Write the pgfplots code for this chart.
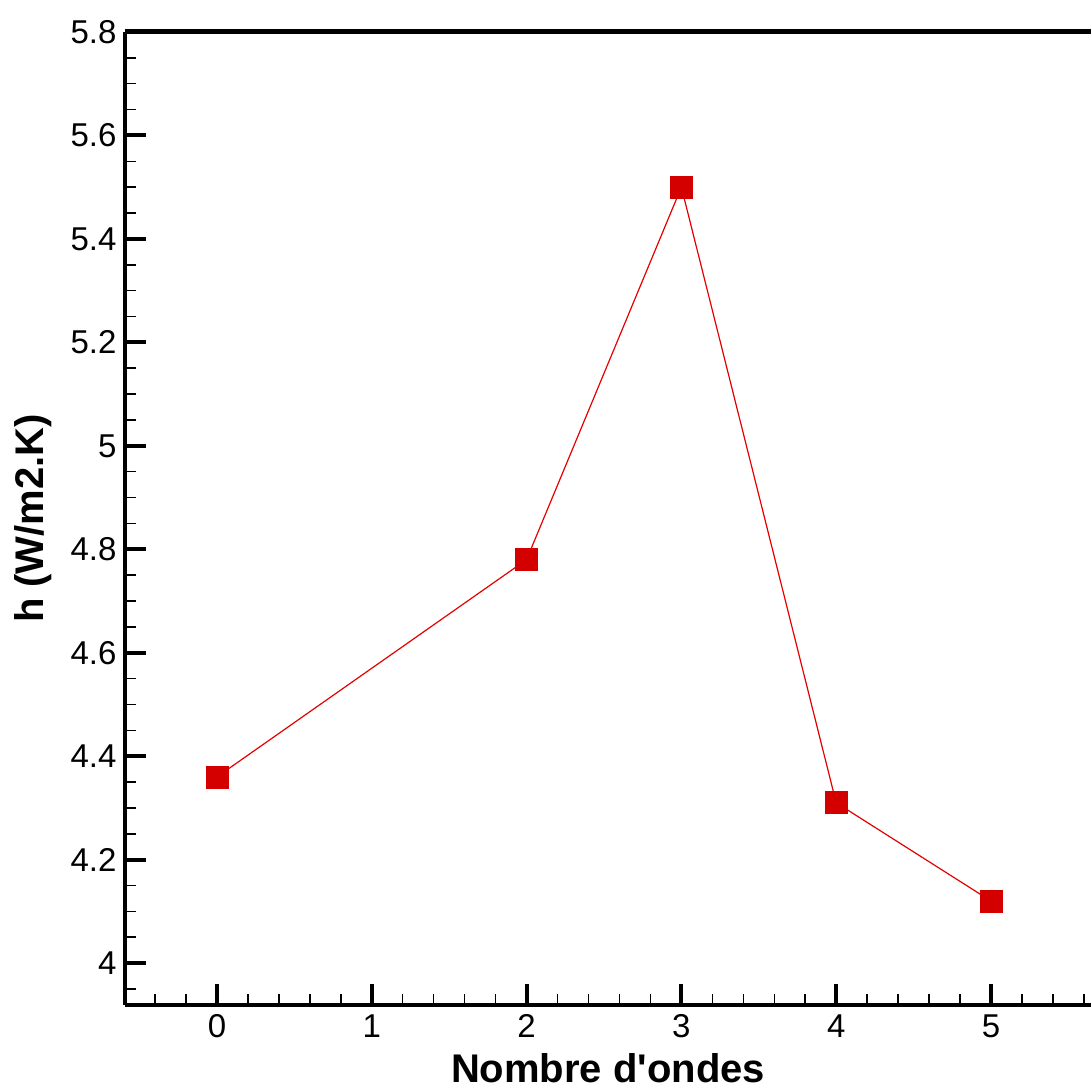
\documentclass[border=0pt]{standalone}
\usepackage{pgfplots}
\pgfplotsset{compat=1.18}
\usepackage{fontspec}
\setmainfont{Liberation Sans}
\definecolor{mred}{RGB}{212,0,0}
\definecolor{lred}{RGB}{228,0,0}
\begin{document}
\begin{tikzpicture}
\begin{axis}[
 scale only axis, width=966pt, height=973pt,
 xmin=-0.594, xmax=5.646, ymin=3.919, ymax=5.8,
 axis x line*=bottom, axis y line*=left,
 axis line style={line width=4.5pt,-},
 tick align=inside,
 xtick={0,1,2,3,4,5},
 ytick={4,4.2,4.4,4.6,4.8,5,5.2,5.4,5.6,5.8},
 minor xtick={-0.4,-0.2,0.2,0.4,0.6,0.8,1.2,1.4,1.6,1.8,2.2,2.4,2.6,2.8,3.2,3.4,3.6,3.8,4.2,4.4,4.6,4.8,5.2,5.4,5.6},
 minor ytick={3.95,4.05,4.1,4.15,4.25,4.3,4.35,4.45,4.5,4.55,4.65,4.7,4.75,4.85,4.9,4.95,5.05,5.1,5.15,5.25,5.3,5.35,5.45,5.5,5.55,5.65,5.7,5.75},
 major tick length=21pt, minor tick length=11pt,
 every major tick/.append style={line width=4pt, black},
 every minor tick/.append style={line width=1.5pt, black},
 ticklabel style={font=\fontsize{33}{39}\selectfont},
 yticklabel style={xshift=-5pt},
 xticklabel style={yshift=-6pt},
 /pgf/number format/assume math mode=true,
 xlabel={Nombre d\textquotesingle ondes}, ylabel={h (W/m2.K)},
 xlabel shift=9pt, ylabel shift=12pt,
 label style={font=\bfseries\fontsize{40}{48}\selectfont},
 clip=false,
]
\addplot[color=lred, line width=1.2pt, mark=square*, mark size=11pt,
  mark options={fill=mred, draw=mred, line width=0.5pt}]
  coordinates {(0,4.36) (2,4.78) (3,5.50) (4,4.31) (5,4.12)};
\draw[line width=5pt] (rel axis cs:0,1) -- (rel axis cs:1,1);
\coordinate (ll) at (rel axis cs:0,0);
\coordinate (ur) at (rel axis cs:1,1);
\end{axis}
\pgfresetboundingbox
\path ([shift={(-125pt,-87pt)}]ll) rectangle ([shift={(0pt,32pt)}]ur);
\end{tikzpicture}
\end{document}
